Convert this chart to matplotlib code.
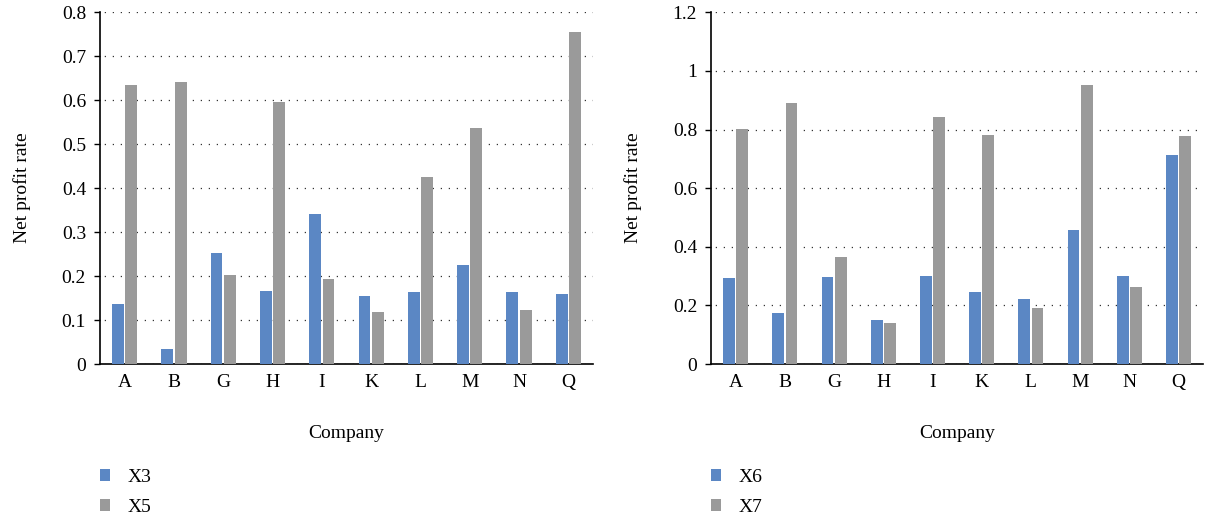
import numpy as np
import matplotlib
matplotlib.use('Agg')
import matplotlib.pyplot as plt
from matplotlib.patches import Patch
import matplotlib.ticker as mticker

plt.rcParams['font.family'] = ['Liberation Serif', 'DejaVu Serif']

companies = ['A', 'B', 'G', 'H', 'I', 'K', 'L', 'M', 'N', 'Q']
x3 = [0.137, 0.034, 0.253, 0.166, 0.341, 0.155, 0.164, 0.225, 0.164, 0.159]
x5 = [0.635, 0.641, 0.203, 0.596, 0.193, 0.118, 0.425, 0.537, 0.123, 0.755]
x6 = [0.294, 0.174, 0.297, 0.150, 0.300, 0.246, 0.222, 0.457, 0.300, 0.713]
x7 = [0.802, 0.891, 0.365, 0.140, 0.843, 0.782, 0.191, 0.952, 0.263, 0.778]

BLUE = '#5b87c4'
GRAY = '#9a9a9a'
FS = 14


def fmt(v, pos):
    return ('%g' % round(v, 2))


def draw_panel(ax, s1, s2, names, ymax, step):
    x = np.arange(len(companies))
    w = 0.24
    gap = 0.03
    ax.bar(x - w / 2 - gap / 2, s1, w, color=BLUE, label=names[0], zorder=3)
    ax.bar(x + w / 2 + gap / 2, s2, w, color=GRAY, label=names[1], zorder=3)
    ax.set_xlim(-0.5, len(companies) - 0.5)
    ax.set_ylim(0, ymax)
    ax.set_yticks(np.arange(0, ymax + step / 2, step))
    ax.yaxis.set_major_formatter(mticker.FuncFormatter(fmt))
    ax.set_xticks(x)
    ax.set_xticklabels(companies)
    ax.tick_params(axis='x', length=0, pad=7, labelsize=FS)
    ax.tick_params(axis='y', length=4, width=1, direction='out', pad=6, labelsize=FS)
    for s in ['top', 'right']:
        ax.spines[s].set_visible(False)
    ax.spines['left'].set_linewidth(1.2)
    ax.spines['bottom'].set_linewidth(1.2)
    ax.yaxis.grid(True, linestyle=(3, (1, 5.4)), color='#333333', linewidth=0.9, zorder=0)
    ax.set_axisbelow(True)
    ax.set_ylabel('Net profit rate', fontsize=FS, labelpad=22)
    ax.set_xlabel('Company', fontsize=FS, labelpad=25)
    handles = [Patch(facecolor=BLUE, label=names[0]), Patch(facecolor=GRAY, label=names[1])]
    ax.legend(handles=handles, loc='upper left', bbox_to_anchor=(0.0, -0.298),
              frameon=False, fontsize=FS, handlelength=0.5, handleheight=0.6,
              handletextpad=0.9, labelspacing=0.68, borderpad=0, borderaxespad=0)


fig = plt.figure(figsize=(12.06, 5.21), dpi=100)
ax1 = fig.add_axes([0.0829, 0.3013, 0.4088, 0.675])
ax2 = fig.add_axes([0.5896, 0.3013, 0.408, 0.675])

draw_panel(ax1, x3, x5, ['X3', 'X5'], 0.8, 0.1)
draw_panel(ax2, x6, x7, ['X6', 'X7'], 1.2, 0.2)

fig.savefig('out.png', dpi=100)
plt.close()
